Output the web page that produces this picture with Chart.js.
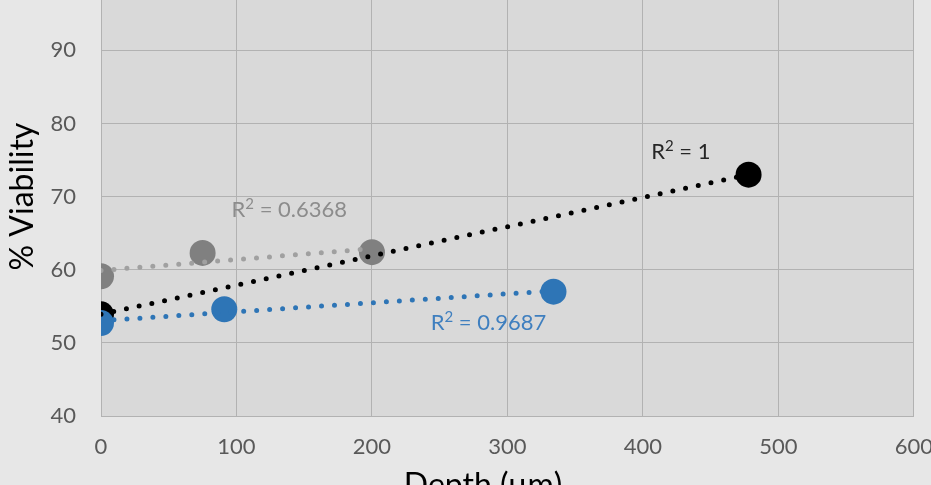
<!DOCTYPE html>
<html>
<head>
<meta charset="utf-8">
<script src="https://cdn.jsdelivr.net/npm/chart.js@4/dist/chart.umd.min.js"></script>
<style>
  html, body { margin: 0; padding: 0; background: #e7e7e7; overflow: hidden; width: 931px; height: 485px; }
  #wrap { position: absolute; left: 0; top: -61px; width: 951px; height: 561px; }
</style>
</head>
<body>
<div id="wrap"><canvas id="c" width="951" height="561"></canvas></div>
<script>
// Depth below the surface (μm) and measured cell viability (%) for each series
const greyDepth = [0, 75, 200];
const greyViability = [59.1, 62.3, 62.4];

const blackDepth = [0, 478];
const blackViability = [53.9, 73.0];

const blueDepth = [0, 91, 334];
const blueViability = [52.7, 54.6, 57.0];

// Axis ticks
const depthTicks = [0, 100, 200, 300, 400, 500, 600];
const viabilityTicks = [40, 50, 60, 70, 80, 90, 100];

// Coefficient of determination printed beside each trendline
const r2Labels = ['R\u00B2 = 0.6368', 'R\u00B2 = 1', 'R\u00B2 = 0.9687'];

// Where each R² label sits, in axis units
const r2Anchors = [
  { x: 139, y: 68.3, color: '#8c8c8c' },
  { x: 428, y: 76.2, color: '#262626' },
  { x: 286, y: 52.8, color: '#3f7fbf' }
];

const FONT = 'Lato, "Open Sans", sans-serif';

function points(xs, ys) {
  return xs.map((x, i) => ({ x: x, y: ys[i] }));
}

// Least-squares line across the range of the series
function fitLine(xs, ys) {
  const n = xs.length;
  const mx = xs.reduce((a, b) => a + b, 0) / n;
  const my = ys.reduce((a, b) => a + b, 0) / n;
  let sxy = 0, sxx = 0;
  for (let i = 0; i < n; i++) {
    sxy += (xs[i] - mx) * (ys[i] - my);
    sxx += (xs[i] - mx) * (xs[i] - mx);
  }
  const slope = sxy / sxx;
  const icpt = my - slope * mx;
  const lo = Math.min(...xs), hi = Math.max(...xs);
  return [{ x: lo, y: icpt + slope * lo }, { x: hi, y: icpt + slope * hi }];
}

function trend(xs, ys, color, order) {
  return {
    type: 'scatter',
    data: fitLine(xs, ys),
    showLine: true,
    borderColor: color,
    borderWidth: 5,
    borderDash: [0, 13],
    borderCapStyle: 'round',
    pointRadius: 0,
    pointHoverRadius: 0,
    order: order
  };
}

function markers(xs, ys, color, order) {
  return {
    type: 'scatter',
    data: points(xs, ys),
    backgroundColor: color,
    borderColor: color,
    borderWidth: 0,
    pointRadius: 13,
    pointHoverRadius: 13,
    order: order
  };
}

const backdrop = {
  id: 'backdrop',
  beforeDraw(chart) {
    const { ctx, chartArea: a } = chart;
    ctx.save();
    ctx.fillStyle = '#e7e7e7';
    ctx.fillRect(0, 0, chart.width, chart.height);
    ctx.fillStyle = '#d9d9d9';
    ctx.fillRect(a.left, a.top, a.right - a.left, a.bottom - a.top);
    ctx.restore();
  }
};

// R² labels, with the 2 set as a raised superscript
const r2Text = {
  id: 'r2Text',
  afterDatasetsDraw(chart) {
    const { ctx, scales } = chart;
    const size = 22, supSize = 15;
    ctx.save();
    ctx.textBaseline = 'alphabetic';
    ctx.textAlign = 'left';
    r2Labels.forEach((t, i) => {
      const a = r2Anchors[i];
      const parts = t.split('\u00B2');
      const head = parts[0], tail = parts[1];
      ctx.font = size + 'px ' + FONT;
      const wHead = ctx.measureText(head).width;
      const wTail = ctx.measureText(tail).width;
      ctx.font = supSize + 'px ' + FONT;
      const wSup = ctx.measureText('2').width;
      const total = wHead + wSup + wTail;
      const cx = scales.x.getPixelForValue(a.x);
      const cy = scales.y.getPixelForValue(a.y);
      let x = cx - total / 2;
      const base = cy + size * 0.36;
      ctx.fillStyle = a.color;
      ctx.font = size + 'px ' + FONT;
      ctx.fillText(head, x, base);
      x += wHead;
      ctx.font = supSize + 'px ' + FONT;
      ctx.fillText('2', x, base - size * 0.38);
      x += wSup;
      ctx.font = size + 'px ' + FONT;
      ctx.fillText(tail, x, base);
    });
    ctx.restore();
  }
};

const depthTitle = {
  id: 'depthTitle',
  afterDraw(chart) {
    const { ctx, chartArea: a } = chart;
    ctx.save();
    ctx.font = '32px ' + FONT;
    ctx.fillStyle = '#000000';
    ctx.textAlign = 'center';
    ctx.textBaseline = 'alphabetic';
    ctx.fillText('Depth (\u03BCm)', a.left + (a.right - a.left) * 0.47, a.bottom + 80);
    ctx.restore();
  }
};

new Chart(document.getElementById('c'), {
  type: 'scatter',
  data: {
    datasets: [
      trend(greyDepth, greyViability, '#a0a0a0', 2),
      trend(blueDepth, blueViability, '#2e75b6', 1),
      trend(blackDepth, blackViability, '#000000', 0),
      markers(blueDepth, blueViability, '#2e75b6', 3),
      markers(blackDepth, blackViability, '#000000', 4),
      markers(greyDepth, greyViability, '#808080', 5)
    ]
  },
  options: {
    responsive: false,
    animation: false,
    devicePixelRatio: 1,
    layout: { autoPadding: false, padding: { left: 0, right: 0, top: 0, bottom: 6 } },
    plugins: { legend: { display: false }, tooltip: { enabled: false } },
    scales: {
      x: {
        type: 'linear',
        min: 0, max: 600,
        afterBuildTicks: s => { s.ticks = depthTicks.map(v => ({ value: v })); },
        afterFit: s => { s.height = 78; },
        grid: { color: '#b2b2b2', lineWidth: 1, drawTicks: false },
        border: { color: '#b2b2b2' },
        ticks: { padding: 18, color: '#595959', font: { family: FONT, size: 22 }, maxRotation: 0 }
      },
      y: {
        type: 'linear',
        min: 40, max: 100,
        afterBuildTicks: s => { s.ticks = viabilityTicks.map(v => ({ value: v })); },
        afterFit: s => { s.width = 101; },
        grid: { color: '#b2b2b2', lineWidth: 1, drawTicks: false },
        border: { color: '#b2b2b2' },
        ticks: { padding: 25, color: '#595959', font: { family: FONT, size: 22 } },
        title: {
          display: true,
          text: '% Viability',
          color: '#000000',
          font: { family: FONT, size: 32 },
          padding: { top: 3, bottom: 0 }
        }
      }
    }
  },
  plugins: [backdrop, r2Text, depthTitle]
});
</script>
</body>
</html>
